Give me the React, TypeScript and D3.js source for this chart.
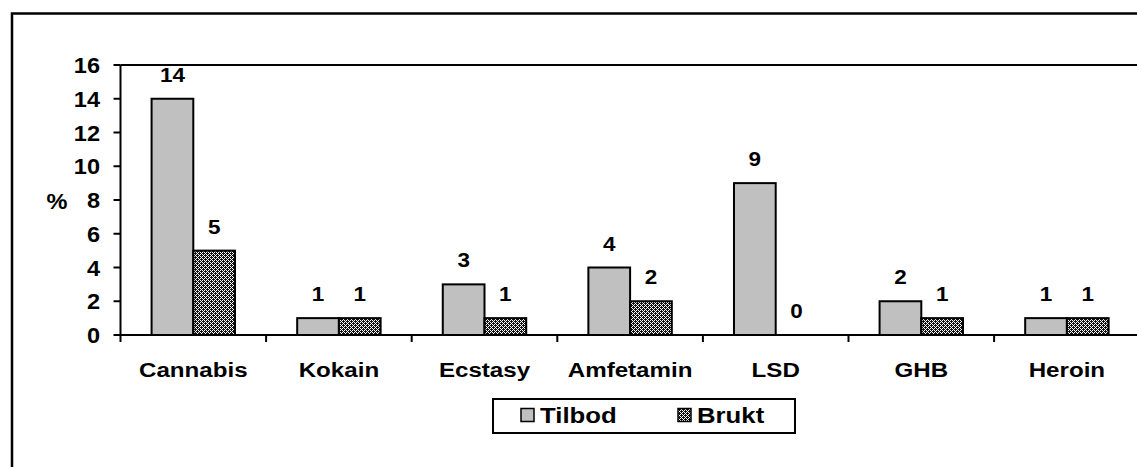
import React from "react";
import * as d3 from "d3";

const categories = ["Cannabis", "Kokain", "Ecstasy", "Amfetamin", "LSD", "GHB", "Heroin"];
const seriesNames = ["Tilbod", "Brukt"];
const tilbod = [14, 1, 3, 4, 9, 2, 1];
const brukt = [5, 1, 1, 2, 0, 1, 1];
const yTicks = [0, 2, 4, 6, 8, 10, 12, 14, 16];
const yLabel = "%";

const W = 1137;
const H = 467;
const FONT = "'Liberation Sans', Arial, Helvetica, sans-serif";

function SText({ x, y, sx = 1.15, anchor = "middle", size = 21, children }: any) {
  return (
    <g transform={`translate(${x},${y}) scale(${sx},1)`}>
      <text textAnchor={anchor} fontFamily={FONT} fontWeight="bold" fontSize={size} fill="#000">
        {children}
      </text>
    </g>
  );
}

const hatchWhite = [
  [0, 0], [2, 0], [1, 1], [0, 2], [2, 2], [3, 3],
];

export default function App() {
  const plotLeft = 120.5;
  const bandStep = 145.6;
  const x = d3
    .scaleBand<string>()
    .domain(categories)
    .range([plotLeft, plotLeft + bandStep * categories.length])
    .paddingInner(0)
    .paddingOuter(0);
  const bw = x.bandwidth();
  const barW = bw / (2 + 1.49);
  const xs = d3
    .scaleBand<string>()
    .domain(seriesNames)
    .range([(bw - 2 * barW) / 2, (bw + 2 * barW) / 2]);
  const y = d3.scaleLinear().domain([0, 16]).range([335, 65]);

  const data = [tilbod, brukt];
  const fills = ["#c0c0c0", "url(#hatch)"];

  return (
    <svg
      width={W}
      height={H}
      style={{ position: "absolute", left: 0, top: 0, display: "block", background: "#fff" }}
    >
      <defs>
        <pattern id="hatch" width={4} height={4} patternUnits="userSpaceOnUse">
          <rect width={4} height={4} fill="#111" />
          {hatchWhite.map(([px, py], k) => (
            <rect key={k} x={px} y={py} width={1} height={1} fill="#fff" />
          ))}
        </pattern>
      </defs>
      <rect x={0} y={0} width={W} height={H} fill="#fff" />
      {/* outer chart frame (extends beyond view) */}
      <rect x={12} y={13.5} width={1300} height={600} fill="none" stroke="#000" strokeWidth={2.5} />

      {/* plot area top border */}
      <line x1={plotLeft} x2={W + 20} y1={y(16)} y2={y(16)} stroke="#000" strokeWidth={2} />

      {/* bars */}
      {categories.map((c, i) =>
        seriesNames.map((s, si) => {
          const v = data[si][i];
          const bx = (x(c) as number) + (xs(s) as number);
          return (
            <rect
              key={c + s}
              x={bx}
              y={y(v)}
              width={xs.bandwidth()}
              height={y(0) - y(v)}
              fill={fills[si]}
              stroke="#000"
              strokeWidth={2}
            />
          );
        })
      )}

      {/* value labels */}
      {categories.map((c, i) =>
        seriesNames.map((s, si) => {
          const v = data[si][i];
          const cx = (x(c) as number) + (xs(s) as number) + xs.bandwidth() / 2;
          return (
            <SText key={"l" + c + s} x={cx} y={y(v) - 17} sx={1.07}>
              {v}
            </SText>
          );
        })
      )}

      {/* y axis */}
      <line x1={plotLeft} x2={plotLeft} y1={y(16)} y2={y(0)} stroke="#000" strokeWidth={2} />
      {yTicks.map((t) => (
        <g key={"yt" + t}>
          <line x1={plotLeft - 7} x2={plotLeft} y1={y(t)} y2={y(t)} stroke="#000" strokeWidth={2} />
          <SText x={100} y={y(t) + 8} anchor="end" sx={1.07} size={22}>
            {t}
          </SText>
        </g>
      ))}
      <SText x={57} y={209} sx={1.07} size={22}>
        {yLabel}
      </SText>

      {/* x axis */}
      <line x1={plotLeft} x2={W + 20} y1={y(0)} y2={y(0)} stroke="#000" strokeWidth={2} />
      {categories.map((c) => (
        <line
          key={"xt" + c}
          x1={x(c) as number}
          x2={x(c) as number}
          y1={y(0)}
          y2={y(0) + 7}
          stroke="#000"
          strokeWidth={2}
        />
      ))}
      {categories.map((c) => (
        <SText key={"xl" + c} x={(x(c) as number) + bw / 2} y={377}>
          {c}
        </SText>
      ))}

      {/* legend */}
      <rect x={493} y={399} width={302} height={34} fill="#fff" stroke="#000" strokeWidth={2} />
      {seriesNames.map((s, si) => {
        const lx = [521, 678][si];
        return (
          <g key={"lg" + s}>
            <rect x={lx} y={408.5} width={13} height={13} fill={fills[si]} stroke="#000" strokeWidth={1.5} />
            <SText x={lx + 19} y={423} anchor="start" size={22} sx={1.17}>
              {s}
            </SText>
          </g>
        );
      })}
    </svg>
  );
}
